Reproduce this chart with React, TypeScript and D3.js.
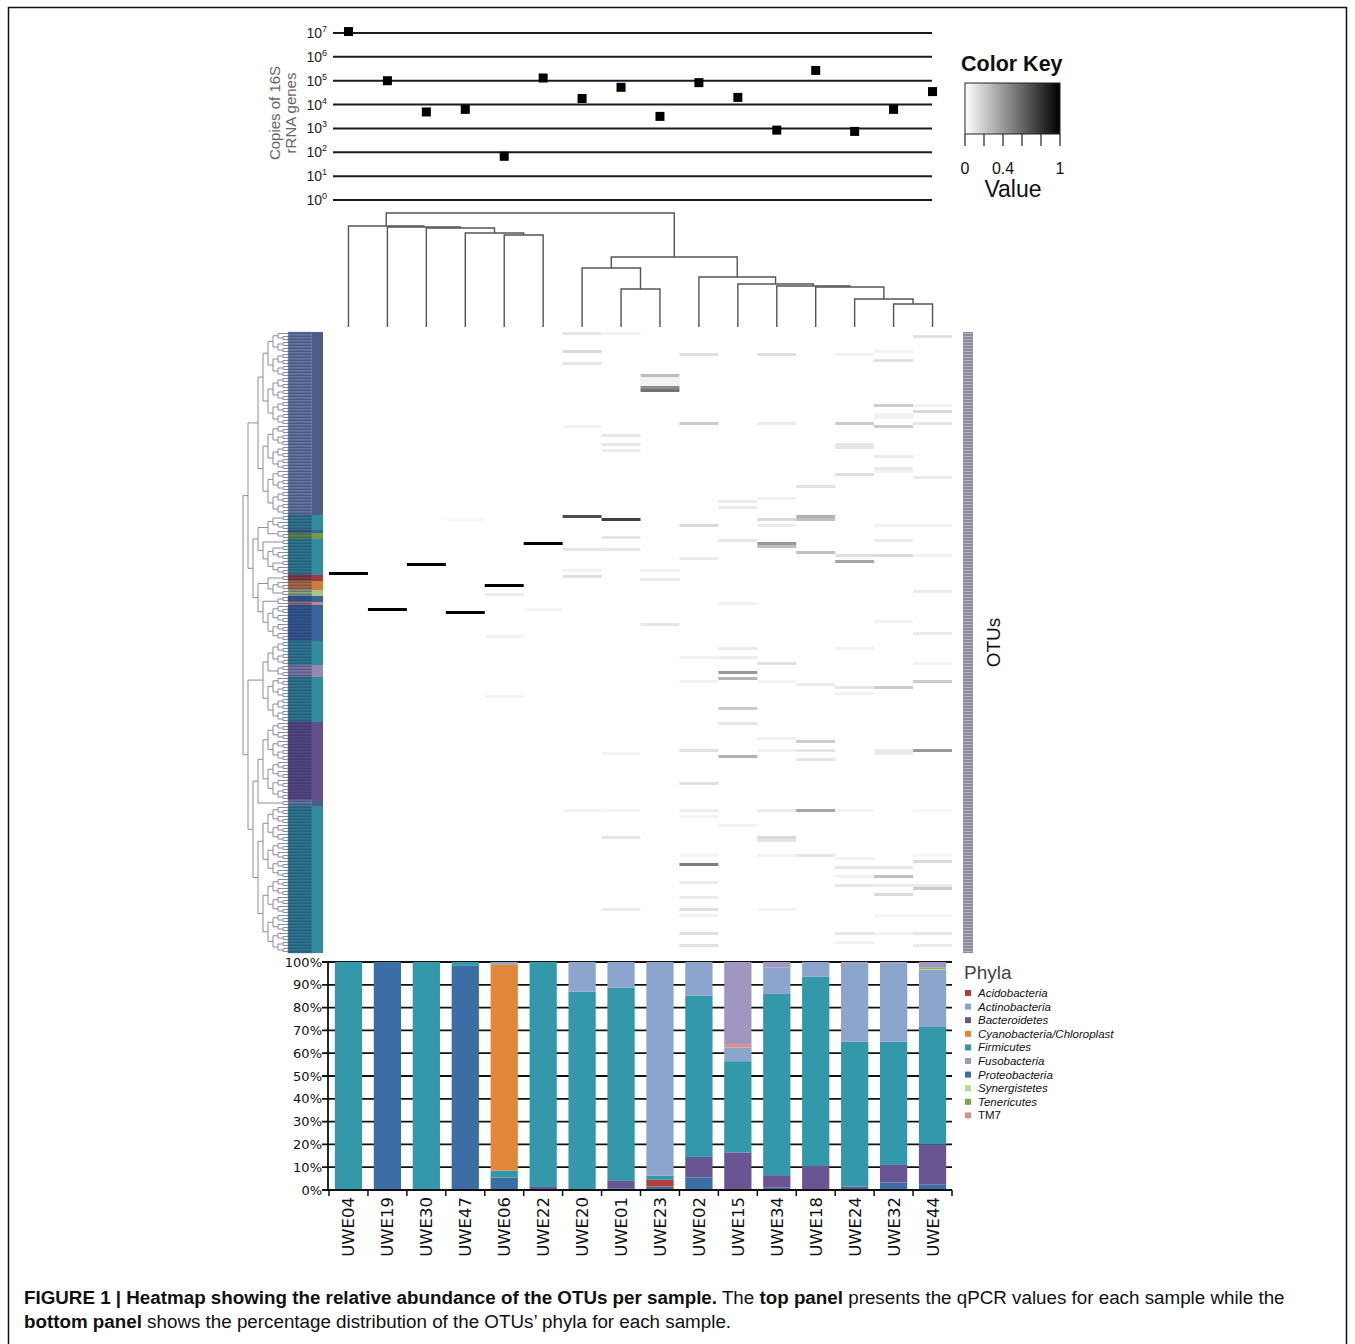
import { useEffect, useRef } from "react";
import * as d3 from "d3";

const samples = ["UWE04", "UWE19", "UWE30", "UWE47", "UWE06", "UWE22", "UWE20", "UWE01", "UWE23", "UWE02", "UWE15", "UWE34", "UWE18", "UWE24", "UWE32", "UWE44"];
// qPCR copies of 16S rRNA genes
const qpcrCopies = [1.15e7, 1.0e5, 4.9e3, 6.3e3, 68, 1.3e5, 1.8e4, 5.3e4, 3.2e3, 8.3e4, 2.0e4, 850, 2.7e5, 750, 6.3e3, 3.5e4];
const qpcrExponents = [0, 1, 2, 3, 4, 5, 6, 7];

// sample dendrogram: [height, left, right]
const colTree: any = [114,
  [101, "UWE04", [100, "UWE19", [99, "UWE30", [94, "UWE47", [92, "UWE06", "UWE22"]]]]],
  [70, [59, "UWE20", [38, "UWE01", "UWE23"]],
    [50, "UWE02", [43, "UWE15", [41, "UWE34", [40, "UWE18", [28, "UWE24", [23, "UWE32", "UWE44"]]]]]]]];

const phyla = ["Acidobacteria", "Actinobacteria", "Bacteroidetes", "Cyanobacteria/Chloroplast", "Firmicutes", "Fusobacteria", "Proteobacteria", "Synergistetes", "Tenericutes", "TM7"];
const phylaColors = ["#b1403a", "#8ba5cd", "#6a5593", "#e1873c", "#3398a9", "#a196c0", "#3b6ea4", "#b9d993", "#7aa845", "#de8d8d"];
const stackOrder = ["Proteobacteria", "Acidobacteria", "Bacteroidetes", "Firmicutes", "Cyanobacteria/Chloroplast", "Actinobacteria", "TM7", "Synergistetes", "Tenericutes", "Fusobacteria"];

// % of OTUs per sample
const proteobacteria = [0, 100, 0, 98.3, 5.5, 0, 0, 0.8, 1.5, 5.5, 0, 1, 0, 0, 3.3, 2.5];
const acidobacteria = [0, 0, 0, 0, 0, 0, 0, 0, 3, 0, 0, 0, 0, 0, 0, 0];
const bacteroidetes = [0, 0, 0, 0, 0, 1.3, 0, 3.2, 0, 9, 16.5, 5.5, 10.5, 1.5, 7.7, 17.5];
const firmicutes = [100, 0, 100, 1.7, 3, 98.7, 87, 84.8, 1.8, 70.8, 40, 79.5, 83, 63.5, 54, 51.5];
const cyanobacteria = [0, 0, 0, 0, 90.5, 0, 0, 0, 0, 0, 0, 0, 0, 0, 0, 0];
const actinobacteria = [0, 0, 0, 0, 1, 0, 13, 11.2, 93.7, 14.7, 6, 11.5, 6.5, 34.5, 34.5, 25];
const tm7 = [0, 0, 0, 0, 0, 0, 0, 0, 0, 0, 1.5, 0, 0, 0, 0, 0];
const synergistetes = [0, 0, 0, 0, 0, 0, 0, 0, 0, 0, 0, 0, 0, 0, 0, 0.5];
const tenericutes = [0, 0, 0, 0, 0, 0, 0, 0, 0, 0, 0, 0, 0, 0, 0, 0.5];
const fusobacteria = [0, 0, 0, 0, 0, 0, 0, 0, 0, 0, 36, 2.5, 0, 0.5, 0.5, 2.5];
const percentTicks = [0, 10, 20, 30, 40, 50, 60, 70, 80, 90, 100];

// OTU rows (top to bottom) and their phylum
const otuCount = 207;
const rowBands: [string, number, number][] = [
  ["Actinobacteria", 0, 61],
  ["Firmicutes", 61, 66],
  ["Proteobacteria", 66, 67],
  ["Tenericutes", 67, 69],
  ["Firmicutes", 69, 81],
  ["Acidobacteria", 81, 83],
  ["Cyanobacteria/Chloroplast", 83, 86],
  ["Synergistetes", 86, 88],
  ["Proteobacteria", 88, 90],
  ["TM7", 90, 91],
  ["Proteobacteria", 91, 103],
  ["Firmicutes", 103, 111],
  ["Fusobacteria", 111, 115],
  ["Firmicutes", 115, 130],
  ["Bacteroidetes", 130, 156],
  ["Actinobacteria", 156, 158],
  ["Firmicutes", 158, 207],
];
// OTU dendrogram, groups of leaf counts
const rowTreeSpec: any = [
  [[[15, 16], [15, 15]], [[[5, 3], [2, 10]], [[2, [3, 2]], [[2, 1], 12]]]],
  [[[8, 4], 15], [[[13, 13], 2], [[12, 12], [[6, 6], 13]]]],
];

// heatmap cells: [sample index, OTU row, relative abundance]
const heatCells: [number, number, number][] = [
  [0, 80, 1], [1, 92, 1], [2, 77, 1], [3, 93, 1], [3, 62, 0.03], [4, 84, 1], [4, 87, 0.08], [4, 101, 0.05], [4, 121, 0.05],
  [5, 70, 1], [5, 92, 0.04],
  [6, 0, 0.1], [6, 6, 0.15], [6, 10, 0.1], [6, 31, 0.05], [6, 61, 0.7], [6, 72, 0.1], [6, 79, 0.05], [6, 81, 0.12], [6, 159, 0.05],
  [7, 0, 0.05], [7, 34, 0.1], [7, 37, 0.1], [7, 39, 0.07], [7, 62, 0.75], [7, 68, 0.1], [7, 72, 0.1], [7, 140, 0.04], [7, 159, 0.04], [7, 168, 0.1], [7, 192, 0.08],
  [8, 14, 0.25], [8, 15, 0.05], [8, 16, 0.05], [8, 17, 0.05], [8, 18, 0.45], [8, 19, 0.55], [8, 79, 0.05], [8, 82, 0.08], [8, 97, 0.1],
  [9, 7, 0.12], [9, 30, 0.2], [9, 64, 0.15], [9, 75, 0.08], [9, 108, 0.05], [9, 116, 0.05], [9, 139, 0.12], [9, 150, 0.12], [9, 159, 0.07], [9, 161, 0.05],
  [9, 174, 0.04], [9, 177, 0.5], [9, 183, 0.08], [9, 188, 0.08], [9, 192, 0.12], [9, 194, 0.05], [9, 200, 0.12], [9, 204, 0.12],
  [10, 56, 0.08], [10, 58, 0.08], [10, 69, 0.1], [10, 90, 0.05], [10, 105, 0.08], [10, 108, 0.07], [10, 113, 0.4], [10, 115, 0.3], [10, 125, 0.2], [10, 130, 0.1], [10, 141, 0.3], [10, 164, 0.05],
  [11, 7, 0.12], [11, 30, 0.08], [11, 55, 0.05], [11, 62, 0.15], [11, 64, 0.08], [11, 70, 0.4], [11, 71, 0.25], [11, 110, 0.12], [11, 116, 0.04], [11, 135, 0.05], [11, 139, 0.05],
  [11, 159, 0.08], [11, 168, 0.15], [11, 169, 0.1], [11, 174, 0.05], [11, 192, 0.04],
  [12, 51, 0.12], [12, 61, 0.3], [12, 62, 0.25], [12, 73, 0.25], [12, 117, 0.08], [12, 136, 0.2], [12, 139, 0.1], [12, 142, 0.1], [12, 159, 0.35], [12, 174, 0.1],
  [13, 7, 0.05], [13, 30, 0.2], [13, 37, 0.1], [13, 38, 0.1], [13, 47, 0.12], [13, 74, 0.12], [13, 76, 0.35], [13, 105, 0.05], [13, 118, 0.1], [13, 120, 0.05], [13, 159, 0.04],
  [13, 175, 0.05], [13, 178, 0.1], [13, 181, 0.05], [13, 184, 0.1], [13, 200, 0.1], [13, 203, 0.05],
  [14, 6, 0.05], [14, 9, 0.12], [14, 24, 0.2], [14, 27, 0.05], [14, 28, 0.05], [14, 31, 0.2], [14, 41, 0.08], [14, 45, 0.08], [14, 46, 0.05], [14, 64, 0.05], [14, 69, 0.08],
  [14, 74, 0.15], [14, 96, 0.05], [14, 118, 0.2], [14, 139, 0.08], [14, 140, 0.08], [14, 178, 0.1], [14, 181, 0.25], [14, 184, 0.08], [14, 187, 0.15], [14, 194, 0.04], [14, 200, 0.05],
  [15, 1, 0.12], [15, 24, 0.05], [15, 26, 0.15], [15, 30, 0.1], [15, 48, 0.08], [15, 64, 0.05], [15, 74, 0.05], [15, 86, 0.08], [15, 100, 0.08], [15, 110, 0.05], [15, 116, 0.2],
  [15, 139, 0.4], [15, 159, 0.03], [15, 174, 0.04], [15, 176, 0.15], [15, 184, 0.08], [15, 185, 0.2], [15, 194, 0.04], [15, 200, 0.1], [15, 204, 0.08],
];

const keyTicks = [0, 0.2, 0.4, 0.6, 0.8, 1];
const keyLabels = [0, 0.4, 1];

export default function App() {
  const svgRef = useRef<SVGSVGElement | null>(null);

  useEffect(() => {
    const svg = d3.select(svgRef.current);
    svg.selectAll("*").remove();
    const sans = "Liberation Sans, Arial, sans-serif";
    const verdana = "DejaVu Sans, Verdana, sans-serif";

    const heatX0 = 329, heatX1 = 952, heatY0 = 332, heatY1 = 953;
    const x = d3.scaleBand<string>().domain(samples).range([heatX0, heatX1]);
    const step = x.bandwidth();
    const cx = (s: string) => (x(s) as number) + step / 2;
    const colorOf = d3.scaleOrdinal<string, string>().domain(phyla).range(phylaColors);

    // frame
    svg.append("rect").attr("x", 8.5).attr("y", 7.5).attr("width", 1338).attr("height", 1345)
      .attr("fill", "none").attr("stroke", "#111").attr("stroke-width", 1.5);

    // ---------- qPCR panel ----------
    const yq = d3.scaleLog().domain([1, 1e7]).range([200, 33]);
    const qp = svg.append("g");
    qpcrExponents.forEach((e) => {
      const yy = yq(Math.pow(10, e));
      qp.append("line").attr("x1", 333).attr("x2", 932).attr("y1", yy).attr("y2", yy)
        .attr("stroke", "#1a1a2a").attr("stroke-width", 2);
      const t = qp.append("text").attr("x", 327).attr("y", yy + 5).attr("text-anchor", "end")
        .attr("font-family", sans).attr("font-size", 14).attr("fill", "#222");
      t.append("tspan").text("10");
      t.append("tspan").attr("dy", -6).attr("font-size", 9).text(String(e));
    });
    qp.selectAll("rect.pt").data(samples).enter().append("rect")
      .attr("x", (d) => cx(d) - 4.5).attr("y", (d, i) => yq(qpcrCopies[i]) - 4.5)
      .attr("width", 9).attr("height", 9).attr("fill", "#000");
    const ql = qp.append("text").attr("transform", "translate(280,113) rotate(-90)")
      .attr("text-anchor", "middle").attr("font-family", sans).attr("font-size", 15).attr("fill", "#666");
    ql.append("tspan").attr("x", 0).attr("dy", 0).text("Copies of 16S");
    ql.append("tspan").attr("x", 0).attr("dy", 16).text("rRNA genes");

    // ---------- color key ----------
    const grad = svg.append("defs").append("linearGradient").attr("id", "keyGrad");
    grad.append("stop").attr("offset", "0%").attr("stop-color", "#fff");
    grad.append("stop").attr("offset", "100%").attr("stop-color", "#000");
    const kx = d3.scaleLinear().domain([0, 1]).range([965, 1060]);
    svg.append("text").attr("x", 961).attr("y", 71).attr("font-family", sans).attr("font-weight", "bold")
      .attr("font-size", 21.5).attr("fill", "#111").text("Color Key");
    svg.append("rect").attr("x", 965).attr("y", 83).attr("width", 95).attr("height", 51)
      .attr("fill", "url(#keyGrad)").attr("stroke", "#222").attr("stroke-width", 1);
    keyTicks.forEach((v) => {
      svg.append("line").attr("x1", kx(v)).attr("x2", kx(v)).attr("y1", 134).attr("y2", 146)
        .attr("stroke", "#222").attr("stroke-width", 1.2);
    });
    keyLabels.forEach((v) => {
      svg.append("text").attr("x", kx(v)).attr("y", 174).attr("text-anchor", "middle")
        .attr("font-family", sans).attr("font-size", 16).attr("fill", "#111").text(String(v));
    });
    svg.append("text").attr("x", 1013).attr("y", 197).attr("text-anchor", "middle")
      .attr("font-family", sans).attr("font-size", 23).attr("fill", "#111").text("Value");

    // ---------- sample dendrogram ----------
    const yd = d3.scaleLinear().domain([0, 114]).range([327, 213]);
    const dg = svg.append("g").attr("stroke", "#555").attr("stroke-width", 1.4).attr("fill", "none");
    const drawCol = (node: any): [number, number] => {
      if (typeof node === "string") return [cx(node), 0];
      const [h, l, r] = node;
      const a = drawCol(l);
      const b = drawCol(r);
      dg.append("path").attr("d", `M${a[0]},${yd(a[1])}V${yd(h)}H${b[0]}V${yd(b[1])}`);
      return [(a[0] + b[0]) / 2, h];
    };
    drawCol(colTree);

    // ---------- heatmap ----------
    const y = d3.scaleBand<number>().domain(d3.range(otuCount)).range([heatY0, heatY1]);
    const rowH = y.bandwidth();
    const shade = d3.scaleLinear<string>().domain([0, 1]).range(["#ffffff", "#000000"]);
    svg.append("g").selectAll("rect").data(heatCells).enter().append("rect")
      .attr("x", (d) => x(samples[d[0]]) as number).attr("y", (d) => y(d[1]) as number)
      .attr("width", step).attr("height", rowH).attr("fill", (d) => shade(d[2]));

    // ---------- OTU phylum strip ----------
    const rowPhylum: string[] = [];
    rowBands.forEach(([p, a, b]) => { for (let i = a; i < b; i++) rowPhylum[i] = p; });
    const strip = svg.append("g");
    const dark = (c: string, t: number) => d3.interpolateRgb(c, "#1b2150")(t);
    strip.selectAll("rect.lab").data(d3.range(otuCount)).enter().append("rect")
      .attr("x", 288).attr("y", (d) => y(d) as number).attr("width", 24).attr("height", rowH)
      .attr("fill", (d) => dark(colorOf(rowPhylum[d]), rowPhylum[d] === "Actinobacteria" ? 0.6 : 0.5))
      .attr("stroke", (d) => colorOf(rowPhylum[d])).attr("stroke-width", 0.5);
    strip.selectAll("rect.side").data(d3.range(otuCount)).enter().append("rect")
      .attr("x", 312).attr("y", (d) => y(d) as number).attr("width", 11).attr("height", rowH)
      .attr("fill", (d) => dark(colorOf(rowPhylum[d]), rowPhylum[d] === "Actinobacteria" ? 0.55 : 0.1));

    // ---------- OTU dendrogram ----------
    const build = (s: any): any => {
      if (Array.isArray(s)) return { children: s.map(build) };
      if (s === 1) return {};
      return { children: [build(Math.floor(s / 2)), build(Math.ceil(s / 2))] };
    };
    const root = d3.hierarchy(build(rowTreeSpec));
    d3.cluster().size([heatY1 - heatY0, 45]).separation(() => 1)(root as any);
    svg.append("g").attr("fill", "none").attr("stroke", "#8d8aa6").attr("stroke-width", 1)
      .selectAll("path").data(root.links()).enter().append("path")
      .attr("d", (l: any) => `M${243 + l.source.y},${heatY0 + l.source.x}V${heatY0 + l.target.x}H${243 + l.target.y}`);

    // ---------- OTU label strip (right) ----------
    svg.append("rect").attr("x", 963).attr("y", heatY0).attr("width", 10).attr("height", heatY1 - heatY0)
      .attr("fill", "#8e8da0");
    svg.append("g").selectAll("line").data(d3.range(otuCount)).enter().append("line")
      .attr("x1", 963).attr("x2", 973).attr("y1", (d) => (y(d) as number) + 1.5).attr("y2", (d) => (y(d) as number) + 1.5)
      .attr("stroke", "#c5c4d2").attr("stroke-width", 0.6);
    svg.append("text").attr("transform", `translate(1000,${(heatY0 + heatY1) / 2}) rotate(-90)`)
      .attr("text-anchor", "middle").attr("font-family", sans).attr("font-size", 19).attr("fill", "#111").text("OTUs");

    // ---------- phyla bars ----------
    const yb = d3.scaleLinear().domain([0, 100]).range([1190, 962]);
    const byPhylum: Record<string, number[]> = {
      "Proteobacteria": proteobacteria, "Acidobacteria": acidobacteria, "Bacteroidetes": bacteroidetes,
      "Firmicutes": firmicutes, "Cyanobacteria/Chloroplast": cyanobacteria, "Actinobacteria": actinobacteria,
      "TM7": tm7, "Synergistetes": synergistetes, "Tenericutes": tenericutes, "Fusobacteria": fusobacteria,
    };
    const table = samples.map((s, i) => {
      const row: any = { sample: s };
      stackOrder.forEach((p) => { row[p] = byPhylum[p][i]; });
      return row;
    });
    const series = d3.stack().keys(stackOrder)(table);
    const bg = svg.append("g");
    percentTicks.forEach((v) => {
      bg.append("line").attr("x1", 322).attr("x2", 952).attr("y1", yb(v)).attr("y2", yb(v))
        .attr("stroke", "#111").attr("stroke-width", 1.8);
      bg.append("text").attr("x", 322).attr("y", yb(v) + 4.5).attr("text-anchor", "end")
        .attr("font-family", verdana).attr("font-size", 13).attr("fill", "#111").text(`${v}%`);
    });
    series.forEach((sr) => {
      bg.append("g").attr("fill", colorOf(sr.key)).selectAll("rect").data(sr).enter().append("rect")
        .attr("x", (d: any) => (x(d.data.sample) as number) + step * 0.15).attr("width", step * 0.7)
        .attr("y", (d) => yb(d[1])).attr("height", (d) => yb(d[0]) - yb(d[1]));
    });
    bg.append("line").attr("x1", 328).attr("x2", 328).attr("y1", 961).attr("y2", 1191).attr("stroke", "#111").attr("stroke-width", 1.8);
    bg.append("line").attr("x1", 322).attr("x2", 952).attr("y1", 1190).attr("y2", 1190).attr("stroke", "#111").attr("stroke-width", 1.8);
    samples.concat([""]).forEach((s, i) => {
      const xx = heatX0 + i * step;
      bg.append("line").attr("x1", xx).attr("x2", xx).attr("y1", 1190).attr("y2", 1196).attr("stroke", "#111").attr("stroke-width", 1.5);
    });
    samples.forEach((s) => {
      bg.append("text").attr("transform", `translate(${cx(s) + 6},1197) rotate(-90)`).attr("text-anchor", "end")
        .attr("font-family", verdana).attr("font-size", 16.5).attr("fill", "#111").text(s);
    });

    // ---------- legend ----------
    const lg = svg.append("g");
    lg.append("text").attr("x", 964).attr("y", 979).attr("font-family", sans).attr("font-size", 19).attr("fill", "#444").text("Phyla");
    phyla.forEach((p, i) => {
      const yy = 993 + i * 13.6;
      lg.append("rect").attr("x", 965).attr("y", yy - 3).attr("width", 6).attr("height", 6).attr("fill", phylaColors[i]);
      lg.append("text").attr("x", 978).attr("y", yy + 4).attr("font-family", sans).attr("font-size", 11.5)
        .attr("font-style", p === "TM7" ? "normal" : "italic").attr("fill", "#111").text(p);
    });

    // ---------- caption ----------
    const cap1 = svg.append("text").attr("x", 24).attr("y", 1304).attr("font-family", sans).attr("font-size", 18.8).attr("fill", "#111");
    cap1.append("tspan").attr("font-weight", "bold").text("FIGURE 1 | Heatmap showing the relative abundance of the OTUs per sample.");
    cap1.append("tspan").text(" The ");
    cap1.append("tspan").attr("font-weight", "bold").text("top panel");
    cap1.append("tspan").text(" presents the qPCR values for each sample while the");
    const cap2 = svg.append("text").attr("x", 24).attr("y", 1328).attr("font-family", sans).attr("font-size", 18.8).attr("fill", "#111");
    cap2.append("tspan").attr("font-weight", "bold").text("bottom panel");
    cap2.append("tspan").text(" shows the percentage distribution of the OTUs\u2019 phyla for each sample.");
  }, []);

  return (
    <svg ref={svgRef} width={1355} height={1344}
      style={{ position: "absolute", left: 0, top: 0, background: "#fff" }} />
  );
}
